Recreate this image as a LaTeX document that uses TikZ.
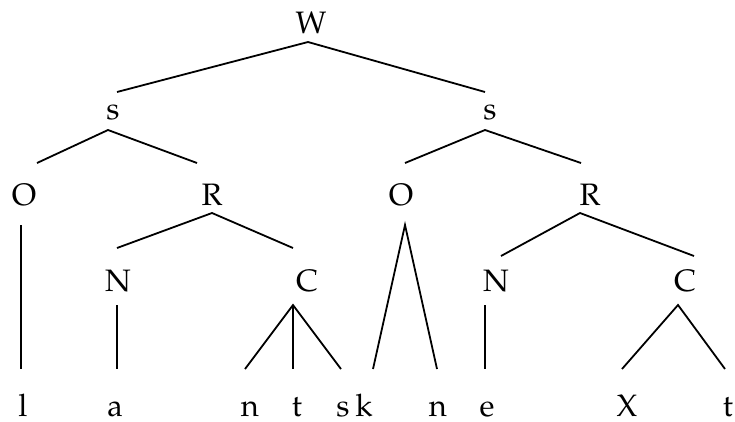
\documentclass[tikz,border=0pt]{standalone}
\usepackage[T1]{fontenc}
\renewcommand{\rmdefault}{ppl}
\begin{document}
\begin{tikzpicture}[x=1pt,y=-1pt,
  lbl/.style={anchor=base,inner sep=0pt,font=\fontsize{31}{36}\selectfont},
  branch/.style={line width=1.8pt}]
\useasboundingbox (0,0) rectangle (735,421);
% labels
\node[lbl] (W) at (311,33) {W};
\node[lbl] (sL) at (113,119) {s};
\node[lbl] (sR) at (490,119) {s};
\node[lbl] (OL) at (24,205) {O};
\node[lbl] (RL) at (212,205) {R};
\node[lbl] (OR) at (401,205) {O};
\node[lbl] (RR) at (590,205) {R};
\node[lbl] (NL) at (118,291) {N};
\node[lbl] (CL) at (307,291) {C};
\node[lbl] (NR) at (496,291) {N};
\node[lbl] (CR) at (685,291) {C};
\node[lbl] (l1) at (23,416) {l};
\node[lbl] (a1) at (115,416) {a};
\node[lbl] (n1) at (250,416) {n};
\node[lbl] (t1) at (297,416) {t};
\node[lbl] (s1) at (343,416) {s};
\node[lbl] (k1) at (364,416) {k};
\node[lbl] (n2) at (438,416) {n};
\node[lbl] (e1) at (487,416) {e};
\node[lbl] (X1) at (627,416) {X};
\node[lbl] (t2) at (728,416) {t};
% branch points
\coordinate (Wa) at (308,42);
\coordinate (Wl) at (117,92);
\coordinate (Wr) at (485,92);
\coordinate (sLa) at (108,130);
\coordinate (sLl) at (37,163);
\coordinate (sLr) at (197,163);
\coordinate (sRa) at (485,130);
\coordinate (sRl) at (405,163);
\coordinate (sRr) at (581,163);
\coordinate (OLt) at (21,225);
\coordinate (OLb) at (21,369);
\coordinate (RLa) at (212,213);
\coordinate (RLl) at (117,248);
\coordinate (RLr) at (293,248);
\coordinate (NLt) at (117,305);
\coordinate (NLb) at (117,369);
\coordinate (CLa) at (293,305);
\coordinate (CLl) at (245,369);
\coordinate (CLm) at (293,369);
\coordinate (CLr) at (341,369);
\coordinate (ORa) at (405,225);
\coordinate (ORl) at (373,369);
\coordinate (ORr) at (437,369);
\coordinate (RRa) at (580,213);
\coordinate (RRl) at (501,256);
\coordinate (RRr) at (694,256);
\coordinate (NRt) at (485,305);
\coordinate (NRb) at (485,369);
\coordinate (CRa) at (678,305);
\coordinate (CRl) at (622,369);
\coordinate (CRr) at (725,369);
% branches
\draw[branch] (Wl) -- (Wa) -- (Wr);
\draw[branch] (sLl) -- (sLa) -- (sLr);
\draw[branch] (sRl) -- (sRa) -- (sRr);
\draw[branch] (OLt) -- (OLb);
\draw[branch] (RLl) -- (RLa) -- (RLr);
\draw[branch] (NLt) -- (NLb);
\draw[branch] (CLl) -- (CLa) -- (CLr);
\draw[branch] (CLa) -- (CLm);
\draw[branch] (ORl) -- (ORa) -- (ORr);
\draw[branch] (RRl) -- (RRa) -- (RRr);
\draw[branch] (NRt) -- (NRb);
\draw[branch] (CRl) -- (CRa) -- (CRr);
\end{tikzpicture}
\end{document}
